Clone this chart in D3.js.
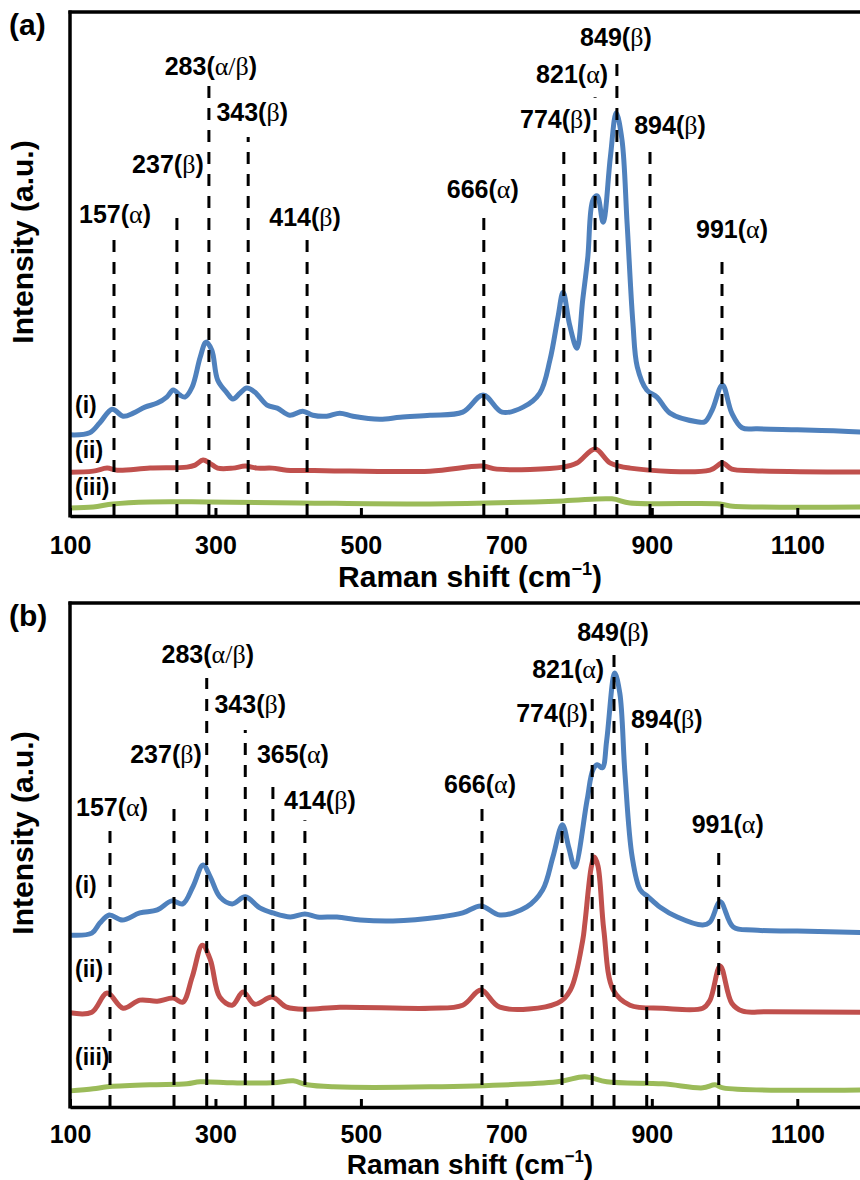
<!DOCTYPE html>
<html>
<head>
<meta charset="utf-8">
<script src="https://cdn.jsdelivr.net/npm/d3@7"></script>
<style>
  body { margin: 0; background: #fff; }
  svg { display: block; }
</style>
</head>
<body>
<div id="chart"></div>
<script>
// wavenumber ticks
const xTicks = [100, 300, 500, 700, 900, 1100];
const seriesNames = ["(i)", "(ii)", "(iii)"];

// panel (a) spectra, [Raman shift, intensity a.u.]
const blueA = [[100,16.1],[127,16.5],[141,18.5],[158,21.2],[173,19.8],[187,20.4],[203,21.6],[220,22.4],[233,23.6],[242,25.0],[251,24.0],[258,23.6],[268,25.6],[279,31.5],[287,34.5],[295,32.9],[303,27.0],[316,24.4],[324,23.2],[334,24.4],[343,25.4],[354,24.6],[371,22.0],[385,21.4],[402,20.0],[420,20.8],[434,20.0],[453,19.8],[471,20.4],[489,19.8],[526,19.2],[554,19.6],[595,20.0],[640,20.6],[668,24.0],[694,20.6],[723,21.6],[746,24.4],[760,31.0],[771,39.5],[778,44.4],[787,37.9],[797,33.3],[805,42.9],[812,51.4],[819,62.7],[825,63.5],[833,58.3],[843,71.2],[851,80.0],[859,74.6],[866,58.1],[874,38.3],[880,29.6],[893,25.0],[907,23.6],[925,20.4],[962,18.7],[973,18.7],[983,21.0],[997,26.0],[1010,20.4],[1024,17.5],[1045,17.3],[1100,17.1],[1150,16.9],[1200,16.6]];
const redA = [[100,8.7],[132,8.9],[151,9.5],[165,9.1],[210,9.5],[261,9.7],[272,10.1],[283,11.1],[292,10.5],[303,9.5],[324,9.5],[341,9.9],[357,9.5],[378,9.5],[398,9.1],[450,9.0],[595,8.9],[667,9.9],[687,9.3],[778,9.7],[797,10.5],[822,13.3],[843,10.5],[870,9.5],[980,9.1],[997,10.5],[1010,9.3],[1040,9.0],[1200,8.7]];
const greenA = [[100,1.6],[132,1.8],[159,2.4],[210,2.8],[288,2.8],[416,2.6],[595,2.4],[778,3.0],[845,3.4],[870,2.6],[994,2.4],[1008,2.0],[1200,1.8]];

// panel (b) spectra
const blueB = [[100,34.1],[130,34.5],[141,36.5],[154,38.1],[172,37.1],[196,38.5],[220,39.1],[240,40.9],[255,40.3],[269,43.7],[283,48.0],[293,45.6],[306,41.7],[323,40.3],[341,41.7],[361,39.5],[379,38.5],[403,37.7],[423,38.3],[440,37.7],[467,37.7],[499,37.1],[544,36.9],[609,37.7],[640,38.5],[665,39.9],[691,38.1],[728,39.7],[750,43.1],[764,49.6],[777,56.0],[786,51.4],[794,47.6],[811,60.9],[819,66.9],[825,67.9],[832,67.3],[838,72.8],[849,86.1],[856,82.1],[863,66.3],[873,49.6],[884,43.1],[895,41.7],[911,39.7],[935,37.7],[970,36.1],[980,36.7],[994,40.7],[1012,35.7],[1039,35.1],[1100,34.9],[1200,34.6]];
const redB = [[100,18.7],[130,18.8],[151,22.6],[173,19.6],[196,21.2],[220,21.0],[242,21.6],[255,20.8],[268,25.8],[282,32.1],[293,29.2],[306,21.8],[323,20.2],[338,22.8],[354,20.4],[378,21.8],[398,19.8],[426,19.4],[471,19.8],[595,19.6],[640,20.2],[665,23.2],[691,19.8],[770,20.6],[788,23.2],[805,33.1],[808,36.5],[817,47.8],[821,49.6],[826,47.8],[834,35.1],[847,23.2],[870,20.2],[915,19.6],[970,19.6],[980,21.2],[994,28.0],[1010,20.6],[1025,19.0],[1060,18.9],[1200,18.8]];
const greenB = [[100,3.2],[132,3.6],[151,4.0],[210,4.4],[261,4.6],[279,5.0],[324,4.8],[379,4.8],[407,5.2],[426,4.4],[462,4.0],[595,4.0],[770,5.0],[808,6.0],[838,5.0],[915,4.6],[970,3.8],[987,4.4],[998,3.8],[1200,3.4]];

// peak assignments
const peakNamesA = ["157","237","283","343","414","666","774","821","849","894","991"];
const peakPhaseA = ["α","β","α/β","β","β","α","β","α","β","β","α"];
const peakPosA = [160.5,247,291,345,426,669,779,822,852,897.5,996.5];
const peakTopA = [55.6,60.5,85.5,75.2,54.8,60.1,74.2,83.1,91.1,72.8,52.4];
const labelLevelA = [58.1,68.1,87.5,78.4,57.5,63.1,77.0,85.9,93.3,75.8,55.2];

const peakNamesB = ["157","237","283","343","365","414","666","774","821","849","894","991"];
const peakPhaseB = ["α","β","α/β","β","α","β","α","β","α","β","β","α"];
const peakPosB = [155,243,288,341,379,423,666.5,776.5,818,848,893,992];
const peakTopB = [55.0,59.9,85.1,74.8,64.5,56.9,59.5,73.4,82.9,90.7,72.2,51.6];
const labelLevelB = [57.7,68.3,88.1,78.2,68.3,59.1,62.3,76.4,85.1,92.5,75.2,54.4];

const seriesLevelA = [20.4, 11.5, 4.2];
const seriesLevelB = [42.5, 25.8, 8.3];

// layout only: horizontal nudge of the peak labels (px)
const labelShiftA = [1,-9,2,4,-2,-1,-8,-23,-1,20,10];
const labelShiftB = [2,-8,1,5,20,15,-2,-10,-24,-1,20,9];

const colors = ["#4F81BD", "#C0504D", "#9BBB59"];
const sans = "'Liberation Sans', Arial, sans-serif";
const serif = "'Liberation Serif', 'Times New Roman', serif";

const W = 860, H = 1180;
const left = 70, right = 870, plotH = 504;

const svg = d3.select("#chart").append("svg")
  .attr("width", W).attr("height", H);

const x = d3.scaleLinear().domain([100, 1200]).range([left, right]);

function drawPanel(top, tag, series, names, phases, pos, tops, levels, shifts, seriesLevels, titleGap, titleSize, tickPad) {
  const bottom = top + plotH;
  const y = d3.scaleLinear().domain([0, 100]).range([bottom, top]);
  const g = svg.append("g");

  // curves
  const line = d3.line().x(d => x(d[0])).y(d => y(d[1])).curve(d3.curveCatmullRom.alpha(0.5));
  series.forEach((s, i) => {
    g.append("path").datum(s)
      .attr("d", line)
      .attr("fill", "none")
      .attr("stroke", colors[i])
      .attr("stroke-width", 5)
      .attr("stroke-linejoin", "round");
  });

  // dashed peak markers, drawn from the axis upward
  g.selectAll("line.peak").data(pos).enter().append("line")
    .attr("class", "peak")
    .attr("x1", d => x(d)).attr("x2", d => x(d))
    .attr("y1", bottom).attr("y2", (d, i) => y(tops[i]))
    .attr("stroke", "#000")
    .attr("stroke-width", 3)
    .attr("stroke-dasharray", "12,10");

  // peak labels
  const lab = g.selectAll("text.peak").data(names).enter().append("text")
    .attr("class", "peak")
    .attr("x", (d, i) => x(pos[i]) + shifts[i])
    .attr("y", (d, i) => y(levels[i]))
    .attr("text-anchor", "middle")
    .attr("font-family", sans)
    .attr("font-weight", "bold")
    .attr("font-size", 25);
  lab.append("tspan").text(d => d + "(");
  lab.append("tspan").attr("font-family", serif).attr("font-weight", "normal")
    .attr("font-size", 26).text((d, i) => phases[i]);
  lab.append("tspan").text(")");

  // series labels
  g.selectAll("text.ser").data(seriesNames).enter().append("text")
    .attr("class", "ser")
    .attr("x", 75)
    .attr("y", (d, i) => y(seriesLevels[i]))
    .attr("font-family", sans).attr("font-weight", "bold").attr("font-size", 23)
    .text(d => d);

  // axes
  const ax = g.append("g")
    .attr("transform", "translate(0," + bottom + ")")
    .call(d3.axisBottom(x).tickValues(xTicks).tickFormat(d3.format("d"))
      .tickSize(-8).tickSizeOuter(0).tickPadding(tickPad));
  ax.select(".domain").attr("stroke", "#000").attr("stroke-width", 3.5);
  ax.selectAll(".tick line").attr("stroke", "#000").attr("stroke-width", 3);
  ax.selectAll(".tick text")
    .attr("font-family", sans).attr("font-weight", "bold").attr("font-size", 25)
    .attr("fill", "#000");

  g.append("line")
    .attr("x1", left).attr("x2", left).attr("y1", top - 1.5).attr("y2", bottom + 1.5)
    .attr("stroke", "#000").attr("stroke-width", 3.5);
  g.append("line")
    .attr("x1", left - 1.5).attr("x2", W).attr("y1", top).attr("y2", top)
    .attr("stroke", "#000").attr("stroke-width", 3.5);

  // titles
  const xt = g.append("text")
    .attr("x", 470).attr("y", bottom + titleGap)
    .attr("text-anchor", "middle")
    .attr("font-family", sans).attr("font-weight", "bold").attr("font-size", titleSize);
  xt.append("tspan").text("Raman shift (cm");
  xt.append("tspan").attr("font-size", titleSize * 0.6).attr("dy", -12).text("−1");
  xt.append("tspan").attr("dy", 12).text(")");

  g.append("text")
    .attr("transform", "translate(33," + (top + 230) + ") rotate(-90)")
    .attr("text-anchor", "middle")
    .attr("font-family", sans).attr("font-weight", "bold").attr("font-size", 30)
    .text("Intensity (a.u.)");

  g.append("text")
    .attr("x", 9).attr("y", top + 23)
    .attr("font-family", sans).attr("font-weight", "bold").attr("font-size", 30)
    .text(tag);
}

drawPanel(12, "(a)", [blueA, redA, greenA], peakNamesA, peakPhaseA, peakPosA, peakTopA, labelLevelA, labelShiftA, seriesLevelA, 71, 30, 20);
drawPanel(603, "(b)", [blueB, redB, greenB], peakNamesB, peakPhaseB, peakPosB, peakTopB, labelLevelB, labelShiftB, seriesLevelB, 67, 28, 18);
</script>
</body>
</html>
